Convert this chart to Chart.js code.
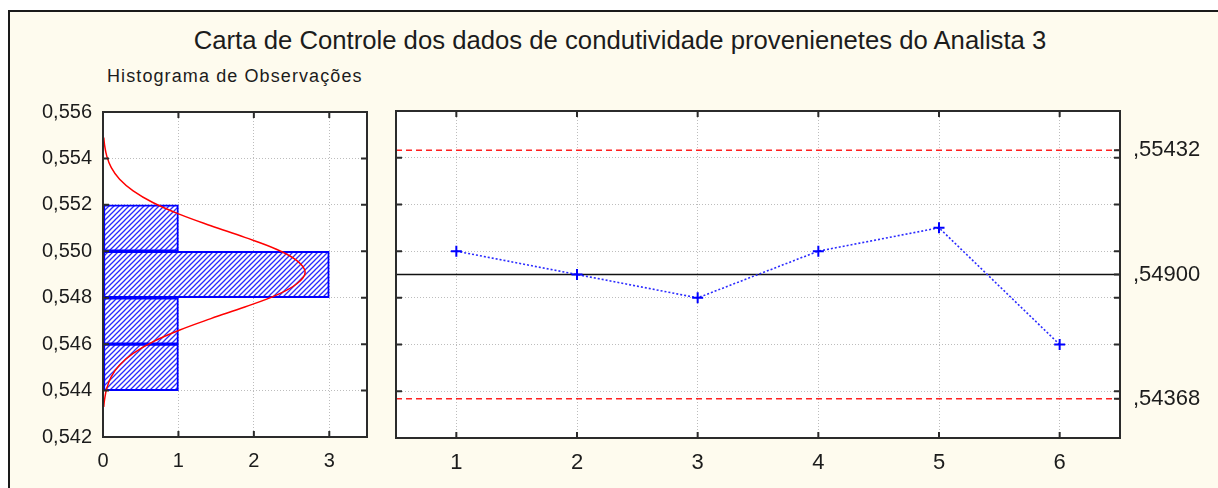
<!DOCTYPE html>
<html lang="pt">
<head>
<meta charset="utf-8">
<title>Carta de Controle - Analista 3</title>
<script src="https://cdn.jsdelivr.net/npm/chart.js@4.4.1/dist/chart.umd.min.js"></script>
<style>
  html, body { margin: 0; padding: 0; background: #fff; width: 1218px; height: 488px; overflow: hidden;
               font-family: "Liberation Sans", Arial, sans-serif; }
  #frame { position: absolute; left: 8px; top: 10px; width: 1300px; height: 600px; box-sizing: border-box;
           border: 2px solid #1a1a1a; background: #fefbee; }
  #title { position: absolute; left: 0; width: 1240px; top: 28px; text-align: center;
           font-size: 25.7px; line-height: 25px; color: #1c1c1c; white-space: nowrap; }
  #subtitle { position: absolute; left: 107px; top: 67px; font-size: 18px; line-height: 18px;
              letter-spacing: 1.1px; color: #1c1c1c; white-space: nowrap; }
  canvas { position: absolute; top: 0; }
  #hist { left: 0; }
  #ctrl { left: 380px; }
</style>
</head>
<body>
<div id="frame"></div>
<div id="title">Carta de Controle dos dados de condutividade provenienetes do Analista 3</div>
<div id="subtitle">Histograma de Observações</div>
<canvas id="hist" width="385" height="488"></canvas>
<canvas id="ctrl" width="838" height="488"></canvas>
<script>
// Condutividade observada em cada amostra
const sampleLabels = ['1', '2', '3', '4', '5', '6'];
const sampleValues = [0.550, 0.549, 0.548, 0.550, 0.551, 0.546];

// Linha central e limites de controle
const centerLine = 0.549;
const upperLimit = 0.55432;
const lowerLimit = 0.54368;

// Histograma: centro de cada classe e frequência
const binCenters = [0.545, 0.547, 0.549, 0.551];
const binCounts = [1, 1, 3, 1];

// Curva normal ajustada: nível e frequência esperada
const curveLevels = [0.5433, 0.5436, 0.5441, 0.5446, 0.5451, 0.5456, 0.5461, 0.5466, 0.5471, 0.5476,
                     0.5481, 0.5486, 0.5491, 0.5496, 0.5501, 0.5506, 0.5511, 0.5516, 0.5521, 0.5526,
                     0.5531, 0.5536, 0.5541, 0.5546, 0.5549];
const curveCounts = [0.01, 0.02, 0.05, 0.11, 0.22, 0.40, 0.66, 1.01, 1.43, 1.88,
                     2.29, 2.57, 2.68, 2.57, 2.29, 1.88, 1.43, 1.01, 0.66, 0.40,
                     0.22, 0.11, 0.05, 0.02, 0.01];

// Marcas dos eixos
const valueTicks = [0.542, 0.544, 0.546, 0.548, 0.550, 0.552, 0.554, 0.556];
const countTicks = [0, 1, 2, 3];

const FONT = '"Liberation Sans", Arial, sans-serif';
const TEXT = '#1c1c1c';
const GRID = '#bdbdbd';

function setTicks(values) {
  return scale => { scale.ticks = values.map(v => ({ value: v })); };
}

// Hachura diagonal azul dos retângulos do histograma
function hatchPattern(ctx) {
  const t = document.createElement('canvas');
  t.width = 5; t.height = 5;
  const g = t.getContext('2d');
  g.fillStyle = '#ffffff';
  g.fillRect(0, 0, 5, 5);
  g.strokeStyle = '#2b2bff';
  g.lineWidth = 1.3;
  g.beginPath();
  g.moveTo(-1, 6); g.lineTo(6, -1);
  g.moveTo(-1, 1); g.lineTo(1, -1);
  g.moveTo(4, 6); g.lineTo(6, 4);
  g.stroke();
  return ctx.createPattern(t, 'repeat');
}

// Fundo branco, moldura e marcas internas de cada painel
const panelFrame = {
  id: 'panelFrame',
  beforeDraw(chart) {
    const { ctx, chartArea: a } = chart;
    ctx.save();
    ctx.fillStyle = '#ffffff';
    ctx.fillRect(a.left, a.top, a.right - a.left, a.bottom - a.top);
    ctx.restore();
  },
  afterDraw(chart) {
    const { ctx, chartArea: a, scales } = chart;
    const L = 6;
    ctx.save();
    ctx.strokeStyle = '#2b2b2b';
    ctx.lineWidth = 2;
    ctx.beginPath();
    scales.x.ticks.forEach((t, i) => {
      const px = scales.x.getPixelForTick(i);
      ctx.moveTo(px, a.top); ctx.lineTo(px, a.top + L);
      ctx.moveTo(px, a.bottom); ctx.lineTo(px, a.bottom - L);
    });
    scales.y.ticks.forEach(t => {
      const py = scales.y.getPixelForValue(t.value);
      ctx.moveTo(a.left, py); ctx.lineTo(a.left + L, py);
      ctx.moveTo(a.right, py); ctx.lineTo(a.right - L, py);
    });
    if (scales.y2) {
      scales.y2.ticks.forEach(t => {
        const py = scales.y2.getPixelForValue(t.value);
        ctx.moveTo(a.right, py); ctx.lineTo(a.right - L, py);
      });
    }
    ctx.stroke();
    ctx.strokeRect(a.left, a.top, a.right - a.left, a.bottom - a.top);
    ctx.restore();
  }
};

// Linha central (contínua) e limites superior/inferior (tracejados)
const controlLines = {
  id: 'controlLines',
  beforeDatasetsDraw(chart) {
    const { ctx, chartArea: a, scales } = chart;
    const draw = (v, color, dash, w) => {
      const py = scales.y.getPixelForValue(v);
      ctx.beginPath();
      ctx.strokeStyle = color;
      ctx.lineWidth = w;
      ctx.setLineDash(dash);
      ctx.moveTo(a.left, py);
      ctx.lineTo(a.right, py);
      ctx.stroke();
    };
    ctx.save();
    draw(upperLimit, '#ff2020', [6, 4], 1.5);
    draw(lowerLimit, '#ff2020', [6, 4], 1.5);
    draw(centerLine, '#111111', [], 1.5);
    ctx.restore();
  }
};

const gridStyle = { color: GRID, lineWidth: 1, drawTicks: false, offset: false };
const borderStyle = { display: false, dash: [1, 2] };

// Painel esquerdo: histograma horizontal com curva normal
const histCanvas = document.getElementById('hist');
new Chart(histCanvas, {
  type: 'bar',
  data: {
    datasets: [
      {
        type: 'line',
        data: curveLevels.map((v, i) => ({ x: curveCounts[i], y: v })),
        borderColor: '#ff0000',
        borderWidth: 1.5,
        pointRadius: 0,
        tension: 0.4,
        fill: false,
        order: 0
      },
      {
        type: 'bar',
        data: binCenters.map((v, i) => ({ x: binCounts[i], y: v })),
        backgroundColor: hatchPattern(histCanvas.getContext('2d')),
        borderColor: '#0000ff',
        borderWidth: 2,
        borderSkipped: false,
        barPercentage: 1,
        categoryPercentage: 1,
        order: 1
      }
    ]
  },
  options: {
    indexAxis: 'y',
    responsive: false,
    animation: false,
    devicePixelRatio: 1,
    layout: { padding: { top: 112, right: 18, left: 0, bottom: 0 } },
    plugins: { legend: { display: false }, tooltip: { enabled: false } },
    scales: {
      x: {
        type: 'linear', min: 0, max: 3.5,
        afterBuildTicks: setTicks(countTicks),
        afterFit: s => { s.height = 51; },
        grid: gridStyle, border: borderStyle,
        ticks: { padding: 12, color: TEXT, font: { family: FONT, size: 20 }, maxRotation: 0,
                 callback: v => String(v) }
      },
      y: {
        type: 'linear', min: 0.542, max: 0.556, offset: false,
        afterBuildTicks: setTicks(valueTicks),
        afterFit: s => { s.width = 103; },
        grid: gridStyle, border: borderStyle,
        ticks: { padding: 11, color: TEXT, font: { family: FONT, size: 20 },
                 callback: v => v.toFixed(3).replace('.', ',') }
      }
    }
  },
  plugins: [panelFrame]
});

// Painel direito: carta de controle das observações
new Chart(document.getElementById('ctrl'), {
  type: 'line',
  data: {
    labels: sampleLabels,
    datasets: [{
      data: sampleValues,
      yAxisID: 'y',
      borderColor: '#2b2bff',
      borderWidth: 1.6,
      borderDash: [2, 2],
      pointStyle: 'cross',
      pointRadius: 5.5,
      pointBorderWidth: 2,
      pointBorderColor: '#0000ff',
      tension: 0,
      fill: false
    }]
  },
  options: {
    responsive: false,
    animation: false,
    devicePixelRatio: 1,
    layout: { padding: { top: 111, right: 0, left: 0, bottom: 0 } },
    plugins: { legend: { display: false }, tooltip: { enabled: false } },
    scales: {
      x: {
        type: 'category', offset: true,
        afterFit: s => { s.height = 50; },
        grid: gridStyle, border: borderStyle,
        ticks: { padding: 12, color: TEXT, font: { family: FONT, size: 22 }, maxRotation: 0 }
      },
      y: {
        type: 'linear', position: 'left', min: 0.542, max: 0.556,
        afterBuildTicks: setTicks(valueTicks),
        afterFit: s => { s.width = 16; },
        grid: gridStyle, border: borderStyle,
        ticks: { display: false }
      },
      y2: {
        type: 'linear', position: 'right', min: 0.542, max: 0.556,
        afterBuildTicks: setTicks([lowerLimit, centerLine, upperLimit]),
        afterFit: s => { s.width = 98; },
        grid: { display: false, drawTicks: false }, border: { display: false },
        ticks: { padding: 13, color: TEXT, font: { family: FONT, size: 22 },
                 callback: v => v.toFixed(5).replace(/^0\./, ',') }
      }
    }
  },
  plugins: [panelFrame, controlLines]
});
</script>
</body>
</html>
